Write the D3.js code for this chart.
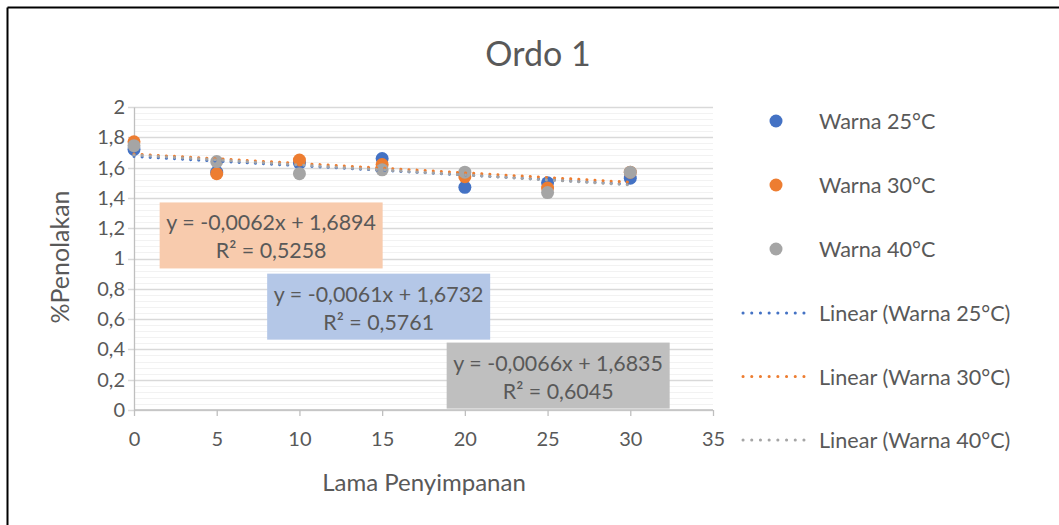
<!DOCTYPE html>
<html><head><meta charset="utf-8">
<script src="https://cdn.jsdelivr.net/npm/d3@7"></script>
<style>body{margin:0;background:#fff}svg{display:block}text{font-family:Lato,"Open Sans",sans-serif;fill:#595959}</style>
</head><body><svg id="c" width="1059" height="525"></svg>
<script>
const xs = [0, 5, 10, 15, 20, 25, 30];
const warna25 = [1.72, 1.57, 1.63, 1.66, 1.47, 1.50, 1.53];
const warna30 = [1.77, 1.56, 1.65, 1.62, 1.54, 1.465, 1.57];
const warna40 = [1.745, 1.64, 1.56, 1.585, 1.57, 1.435, 1.57];
const seriesNames = ["Warna 25°C", "Warna 30°C", "Warna 40°C"];
const trendSlope = [-0.0061, -0.0062, -0.0066];
const trendIntercept = [1.6732, 1.6894, 1.6835];
const trendR2 = ["0,5761", "0,5258", "0,6045"];
const xTicks = [0, 5, 10, 15, 20, 25, 30, 35];
const yTicks = [0, 0.2, 0.4, 0.6, 0.8, 1, 1.2, 1.4, 1.6, 1.8, 2];
const colors = ["#4472C4", "#ED7D31", "#A5A5A5"];
const boxFills = ["#B4C7E7", "#F8CBAD", "#BFBFBF"];

const svg = d3.select("#c");
svg.append("line").attr("x1",7.5).attr("x2",1059).attr("y1",7.5).attr("y2",7.5).attr("stroke","#000").attr("stroke-width",2);
svg.append("line").attr("x1",7.5).attr("x2",7.5).attr("y1",7.5).attr("y2",525).attr("stroke","#000").attr("stroke-width",2);

const x = d3.scaleLinear().domain([0,35]).range([134,713]);
const y = d3.scaleLinear().domain([0,2]).range([410,107]);

const minor = d3.range(0, 2.0001, 0.04);
svg.append("g").selectAll("line").data(minor).join("line")
  .attr("x1",x(0)).attr("x2",x(35)).attr("y1",d=>Math.round(y(d))+0.5).attr("y2",d=>Math.round(y(d))+0.5)
  .attr("stroke","#F2F2F2").attr("stroke-width",1);
svg.append("g").selectAll("line").data(yTicks).join("line")
  .attr("x1",x(0)-6).attr("x2",x(35)).attr("y1",d=>Math.round(y(d))+0.5).attr("y2",d=>Math.round(y(d))+0.5)
  .attr("stroke","#D9D9D9").attr("stroke-width",1.3);

const yAxis = d3.axisLeft(y).tickValues(yTicks).tickSize(0).tickPadding(9)
  .tickFormat(d=>d3.format("~g")(d).replace(".",","));
const gy = svg.append("g").attr("transform",`translate(${x(0)},0)`).call(yAxis);
gy.select(".domain").attr("stroke","#BFBFBF").attr("stroke-width",1.3);
gy.selectAll("text").attr("font-size",20).style("fill","#595959");

const xAxis = d3.axisBottom(x).tickValues(xTicks).tickSize(6).tickPadding(16).tickFormat(d3.format("d"));
const gx = svg.append("g").attr("transform",`translate(0,${y(0)})`).call(xAxis);
gx.select(".domain").attr("stroke","#BFBFBF").attr("stroke-width",1.3).attr("d",`M${x(0)},0H${x(35)}`);
gx.selectAll(".tick line").attr("stroke","#BFBFBF").attr("stroke-width",1.3);
gx.selectAll("text").attr("font-size",20).style("fill","#595959");

svg.append("text").attr("x",538).attr("y",66).attr("text-anchor","middle").attr("font-size",34).text("Ordo 1");
svg.append("text").attr("x",424).attr("y",491).attr("text-anchor","middle").attr("font-size",24).text("Lama Penyimpanan");
svg.append("text").attr("transform","translate(69,257) rotate(-90)").attr("text-anchor","middle").attr("font-size",25).text("%Penolakan");

const data = [warna25, warna30, warna40];
data.forEach((vals,i)=>{
  svg.append("g").selectAll("circle").data(vals).join("circle")
    .attr("cx",(d,j)=>x(xs[j])).attr("cy",d=>y(d)).attr("r",6.5).attr("fill",colors[i]);
});
[0,1,2].forEach(i=>{
  const x0 = d3.min(xs), x1 = d3.max(xs);
  svg.append("line").attr("x1",x(x0)).attr("x2",x(x1))
    .attr("y1",y(trendIntercept[i]+trendSlope[i]*x0)).attr("y2",y(trendIntercept[i]+trendSlope[i]*x1))
    .attr("stroke",colors[i]).attr("stroke-width",3).attr("stroke-linecap","round").attr("stroke-dasharray","0.1 8");
});

const boxes = [
  {i:1, x0:1.55, y0:1.37},
  {i:0, x0:8.05, y0:0.9},
  {i:2, x0:18.9, y0:0.445}
];
const fmt = v => v.toFixed(4).replace(".",",");
boxes.forEach(b=>{
  const bx = x(b.x0), by = y(b.y0);
  svg.append("rect").attr("x",bx).attr("y",by).attr("width",223).attr("height",66).attr("fill",boxFills[b.i]);
  const eq = `y = ${fmt(trendSlope[b.i])}x + ${fmt(trendIntercept[b.i])}`;
  svg.append("text").attr("x",bx+111.5).attr("y",by+28).attr("text-anchor","middle").attr("font-size",21.4).text(eq);
  svg.append("text").attr("x",bx+111.5).attr("y",by+56).attr("text-anchor","middle").attr("font-size",21.4).text(`R² = ${trendR2[b.i]}`);
});

const lg = svg.append("g");
seriesNames.forEach((n,i)=>{
  const ly = 121 + i*64;
  lg.append("circle").attr("cx",776).attr("cy",ly).attr("r",6.5).attr("fill",colors[i]);
  lg.append("text").attr("x",819).attr("y",ly+8).attr("font-size",21.6).text(n);
});
seriesNames.forEach((n,i)=>{
  const ly = 313 + i*63.5;
  lg.append("line").attr("x1",743).attr("x2",812).attr("y1",ly).attr("y2",ly)
    .attr("stroke",colors[i]).attr("stroke-width",3).attr("stroke-linecap","round").attr("stroke-dasharray","0.1 8.6");
  lg.append("text").attr("x",819).attr("y",ly+8).attr("font-size",21.6).text(`Linear (${n})`);
});
</script></body></html>
